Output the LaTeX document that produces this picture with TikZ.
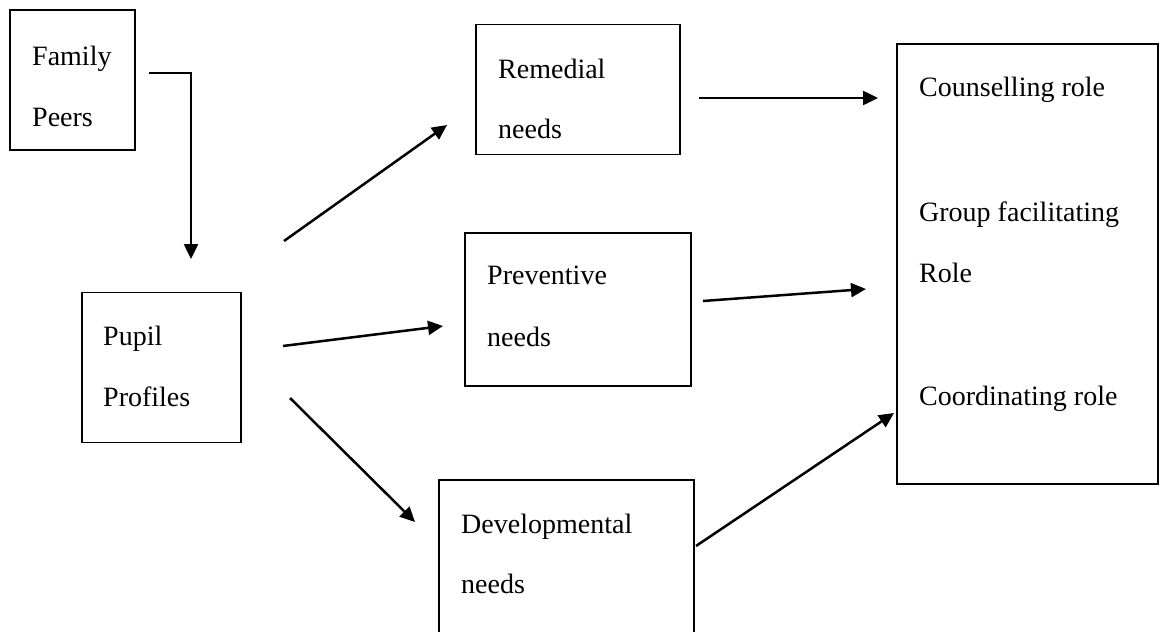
\documentclass[tikz,border=0pt]{standalone}
\usepackage{fontspec}
\setmainfont{Liberation Serif}
\usetikzlibrary{arrows.meta}

\begin{document}
\begin{tikzpicture}[x=1pt,y=-1pt,>={Triangle[length=15pt,width=14pt]},scale=1.0]
    \tikzstyle{box}=[draw=black, rectangle, line width=1.8pt, inner sep=0pt, fill=none]
    \tikzstyle{txt}=[anchor=base west, inner sep=0pt, text=black, font=\fontsize{28}{33}\selectfont]
    \tikzstyle{arr}=[->, line width=2.5pt]

    \fill[white] (0,0) rectangle (1160,632);
    \useasboundingbox (0,0) rectangle (1160,632);
    \clip (0,0) rectangle (1160,632);

    % boxes
    \node[box, minimum width=125pt, minimum height=140pt] (fam) at (72.5,80)   {};
    \node[box, minimum width=159pt, minimum height=150pt] (pup) at (161.5,367.5) {};
    \node[box, minimum width=204pt, minimum height=130pt] (rem) at (578,89.5)  {};
    \node[box, minimum width=226pt, minimum height=153pt] (pre) at (578,309.5) {};
    \node[box, minimum width=255pt, minimum height=171pt] (dev) at (566.5,565.5) {};
    \node[box, minimum width=261pt, minimum height=440pt] (rol) at (1027.5,264)  {};

    % texts
    \node[txt] (famA) at (32,65)   {Family};
    \node[txt] (famB) at (32,126)  {Peers};
    \node[txt] (pupA) at (103,345) {Pupil};
    \node[txt] (pupB) at (103,406) {Profiles};
    \node[txt] (remA) at (498,78)  {Remedial};
    \node[txt] (remB) at (498,138) {needs};
    \node[txt] (preA) at (487,284) {Preventive};
    \node[txt] (preB) at (487,346) {needs};
    \node[txt] (devA) at (461,533) {Developmental};
    \node[txt] (devB) at (461,593) {needs};
    \node[txt] (rolA) at (919,96)  {Counselling role};
    \node[txt] (rolB) at (919,221) {Group facilitating};
    \node[txt] (rolC) at (919,282) {Role};
    \node[txt] (rolD) at (919,405) {Coordinating role};

    % connector ends
    \coordinate (famOut)  at (149,73);
    \coordinate (famBend) at (191,73);
    \coordinate (pupIn)   at (191,259);
    \coordinate (pupOutA) at (284,241);
    \coordinate (remIn)   at (447,125);
    \coordinate (pupOutB) at (283,346);
    \coordinate (preIn)   at (443,326);
    \coordinate (pupOutC) at (290,398);
    \coordinate (devIn)   at (415,522);
    \coordinate (remOut)  at (699,98);
    \coordinate (rolInA)  at (878,98);
    \coordinate (preOut)  at (703,301);
    \coordinate (rolInB)  at (866,289);
    \coordinate (devOut)  at (696,546);
    \coordinate (rolInC)  at (894,413);

    \draw[arr] (famOut) -- (famBend) -- (pupIn);
    \draw[arr] (pupOutA) -- (remIn);
    \draw[arr] (pupOutB) -- (preIn);
    \draw[arr] (pupOutC) -- (devIn);
    \draw[arr] (remOut) -- (rolInA);
    \draw[arr] (preOut) -- (rolInB);
    \draw[arr] (devOut) -- (rolInC);
\end{tikzpicture}
\end{document}
